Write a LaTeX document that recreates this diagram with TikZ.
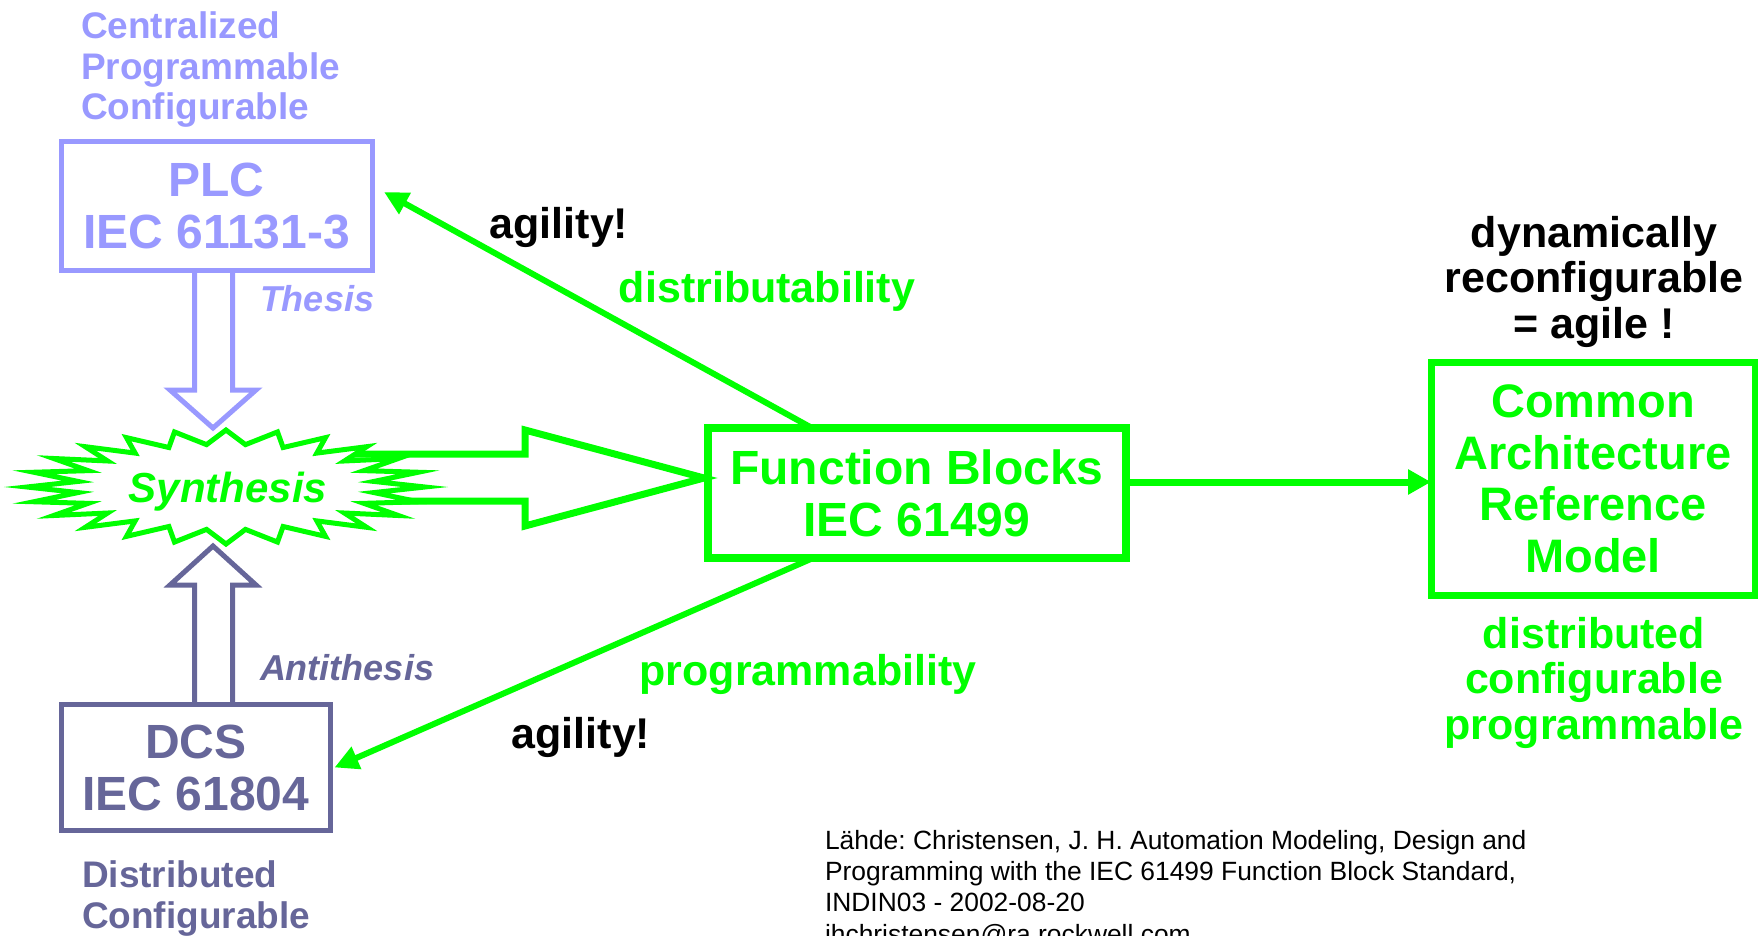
\documentclass[tikz,border=0pt]{standalone}
\usepackage{fontspec}
\setmainfont{Liberation Sans}
\usetikzlibrary{arrows.meta,calc}
\definecolor{lilac}{HTML}{9999FF}
\definecolor{slate}{HTML}{666699}
\definecolor{gneon}{HTML}{00FF00}
\frenchspacing
\tikzset{
  boxsty/.style={draw=#1, text=#1, rectangle, outer sep=0pt, inner sep=0pt, align=center},
  lbl/.style={inner sep=0pt, outer sep=0pt},
  ftitle/.style={font=\bfseries\fontsize{48}{52}\selectfont},
  fcarm/.style={font=\bfseries\fontsize{47}{51.5}\selectfont},
  fmid/.style={font=\bfseries\fontsize{43}{45.5}\selectfont},
  flist/.style={font=\bfseries\fontsize{37}{40.5}\selectfont},
  fital/.style={font=\bfseries\itshape\fontsize{36}{40}\selectfont},
  gconn/.style={draw=gneon, line width=6pt, -{Triangle[length=24pt,width=23pt]}},
  hollow/.style={line width=5pt, line join=miter},
}
\begin{document}
\begin{tikzpicture}[x=1pt,y=-1pt]
\useasboundingbox (0,0) rectangle (1758,936);

% big hollow arrow (behind the star)
\draw[draw=gneon, line width=7pt, line join=miter]
  (300,454) -- (525,454) -- (525,430) -- (704,478) -- (525,526) -- (525,501) -- (300,501);

% synthesis star
\coordinate (sync) at (226,487);
\filldraw[draw=gneon, fill=white, line width=5pt, line join=miter, shift={(sync)}]
  plot[samples at={0,...,47}, variable=\k]
  ({(1-0.25*mod(\k,2))*199*cos(7.5*\k)}, {(1-0.25*mod(\k,2))*57*sin(7.5*\k)}) -- cycle;
\node[lbl, anchor=base, text=gneon, font=\bfseries\itshape\fontsize{42}{46}\selectfont] (syn) at (228,502) {Synthesis};

% thesis / antithesis block arrows
\draw[hollow, draw=lilac] (194.5,270) -- (194.5,390) -- (170,390) -- (213,428) -- (256,390) -- (232.5,390) -- (232.5,270);
\draw[hollow, draw=slate] (194.5,704.5) -- (194.5,585) -- (170,585) -- (213,546) -- (256,585) -- (232.5,585) -- (232.5,704.5);

% boxes
\node[boxsty=lilac, line width=5pt, minimum width=311pt, minimum height=128pt, ftitle] (plc) at (216.5,206) {PLC\\IEC 61131-3};
\node[boxsty=slate, line width=5pt, minimum width=269pt, minimum height=126pt, ftitle] (dcs) at (196,767.5) {DCS\\IEC 61804};
\node[boxsty=gneon, line width=8pt, minimum width=418pt, minimum height=130pt, ftitle] (fb) at (917,493) {Function Blocks\\IEC 61499};
\node[boxsty=gneon, line width=7pt, minimum width=324pt, minimum height=233pt, fcarm] (carm) at (1593,479) {Common\\Architecture\\Reference\\Model};

% labels (anchor=base is the baseline of the last line)
\node[lbl, anchor=base west, align=left, text=lilac, flist] (cent) at (81,120) {Centralized\\Programmable\\Configurable};
\node[lbl, anchor=base west, text=lilac, fital] (thesis) at (260,311) {Thesis};
\node[lbl, anchor=base west, text=slate, fital] (anti) at (260,680) {Antithesis};
\node[lbl, anchor=base west, align=left, text=slate, flist] (dist) at (82,928) {Distributed\\Configurable};

\node[lbl, anchor=base, fmid] (agU) at (559,238) {agility!};
\node[lbl, anchor=base, fmid, text=gneon] (distab) at (767,302) {distributability};
\node[lbl, anchor=base, fmid, text=gneon] (progab) at (808,685) {programmability};
\node[lbl, anchor=base, fmid] (agL) at (581,748) {agility!};

\node[lbl, anchor=base, align=center, fmid] (dyn) at (1594,338) {dynamically\\reconfigurable\\= agile !};
\node[lbl, anchor=base, align=center, fmid, text=gneon] (dcp) at (1594,739) {distributed\\configurable\\programmable};

\node[lbl, anchor=base west, align=left, font=\fontsize{26.4}{31.3}\selectfont] (src) at (825,943)
  {Lähde: Christensen, J. H. Automation Modeling, Design and\\Programming with the IEC 61499 Function Block Standard,\\INDIN03 - 2002-08-20\\jhchristensen@ra.rockwell.com};

% connectors
\draw[gconn] ($(fb.north west)+(104,0)$) -- ($(plc.north east)+(12,50)$);
\draw[gconn] ($(fb.south west)+(105,0)$) -- ($(dcs.east)+(4,0)$);
\draw[draw=gneon, line width=7pt, -{Triangle[length=23pt,width=24pt]}] ($(fb.east)+(0,-11)$) -- ($(carm.west)+(0,3)$);
\end{tikzpicture}
\end{document}
